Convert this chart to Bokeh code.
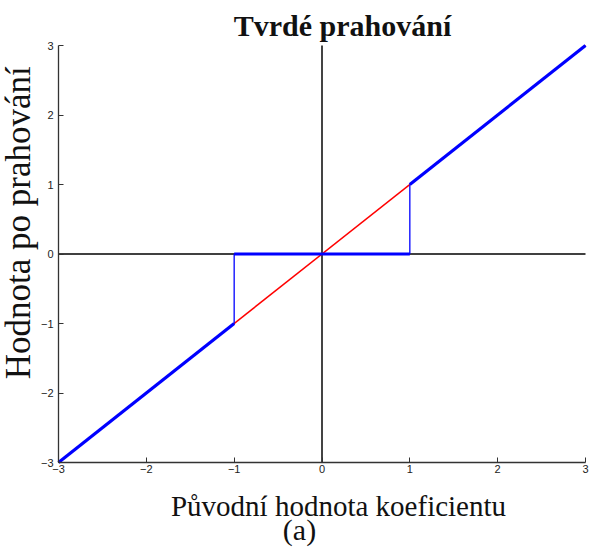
from bokeh.plotting import figure
from bokeh.models import Range1d, FixedTicker, Label, LinearAxis
from bokeh.embed import file_html
from bokeh.resources import INLINE

# ---- data ----
tick_values = [-3, -2, -1, 0, 1, 2, 3]
tick_labels = ["\u22123", "\u22122", "\u22121", "0", "1", "2", "3"]

identity_x = [-3, 3]
identity_y = [-3, 3]

neg_branch_x = [-3, -1]
neg_branch_y = [-3, -1]
pos_branch_x = [1, 3]
pos_branch_y = [1, 3]
zero_part_x = [-1, 1]
zero_part_y = [0, 0]
jump_neg_x = [-1, -1]
jump_neg_y = [-1, 0]
jump_pos_x = [1, 1]
jump_pos_y = [0, 1]

haxis_x = [-3, 3]
haxis_y = [0, 0]
vaxis_x = [0, 0]
vaxis_y = [-3, 3]

title_text = "Tvrdé prahování"
xlabel_text = "Původní hodnota koeficientu"
ylabel_text = "Hodnota po prahování"
sub_text = "(a)"

W, H = 590, 549
# pixel box of the axes area (-3..3 on both axes)
left_px, right_px, top_px, bottom_px = 58, 585, 45, 462
sx = (right_px - left_px) / 6.0
sy = (bottom_px - top_px) / 6.0
x_range = Range1d(-3 - left_px / sx, 3 + (W - right_px) / sx)
y_range = Range1d(-3 - (H - bottom_px) / sy, 3 + top_px / sy)

p = figure(width=W, height=H, output_backend="svg", toolbar_location=None,
           x_range=x_range, y_range=y_range, x_axis_type=None, y_axis_type=None,
           min_border=0)
p.outline_line_color = None
p.grid.visible = False
p.background_fill_color = "white"
p.border_fill_color = "white"

overrides = {v: t for v, t in zip(tick_values, tick_labels)}
xax = LinearAxis(fixed_location=-3, bounds=(-3, 3))
yax = LinearAxis(fixed_location=-3, bounds=(-3, 3))
for ax in (xax, yax):
    ax.ticker = FixedTicker(ticks=tick_values)
    ax.major_label_overrides = overrides
    ax.major_tick_in = 5
    ax.major_tick_out = 0
    ax.minor_tick_line_color = None
    ax.axis_line_color = "#333333"
    ax.major_tick_line_color = "#333333"
    ax.axis_line_width = 1.3
    ax.major_label_text_font = "Liberation Sans"
    ax.major_label_text_font_size = "11px"
    ax.major_label_text_color = "#222222"
xax.major_label_standoff = 2
yax.major_label_standoff = 5
p.add_layout(xax, "below")
p.add_layout(yax, "left")

# zero axes
p.line(haxis_x, haxis_y, line_color="black", line_width=1.3)
p.line(vaxis_x, vaxis_y, line_color="#444444", line_width=2)

# identity (red)
p.line(identity_x, identity_y, line_color="#ff0000", line_width=1.5)

# hard thresholding (blue)
p.line(neg_branch_x, neg_branch_y, line_color="#0000ff", line_width=3.2)
p.line(pos_branch_x, pos_branch_y, line_color="#0000ff", line_width=3.2)
p.line(zero_part_x, zero_part_y, line_color="#0000ff", line_width=3.2)
p.line(jump_neg_x, jump_neg_y, line_color="#0000ff", line_width=1.3)
p.line(jump_pos_x, jump_pos_y, line_color="#0000ff", line_width=1.3)

serif = "Liberation Serif"
p.add_layout(Label(x=0.233, y=3.29, text=title_text, text_font=serif,
                   text_font_size="30px", text_font_style="bold",
                   text_align="center", text_baseline="alphabetic", text_color="#111111"))
p.add_layout(Label(x=0.188, y=-3.62, text=xlabel_text, text_font=serif,
                   text_font_size="29px", text_align="center",
                   text_baseline="alphabetic", text_color="#111111"))
p.add_layout(Label(x=-0.256, y=-3.97, text=sub_text, text_font=serif,
                   text_font_size="30px", text_align="center",
                   text_baseline="alphabetic", text_color="#111111"))
p.add_layout(Label(x=-3.46, y=0.45, text=ylabel_text, text_font=serif,
                   text_font_size="35px", text_align="center", angle=1.5708,
                   text_baseline="alphabetic", text_color="#111111"))

open("out.html", "w").write(file_html(p, INLINE))
